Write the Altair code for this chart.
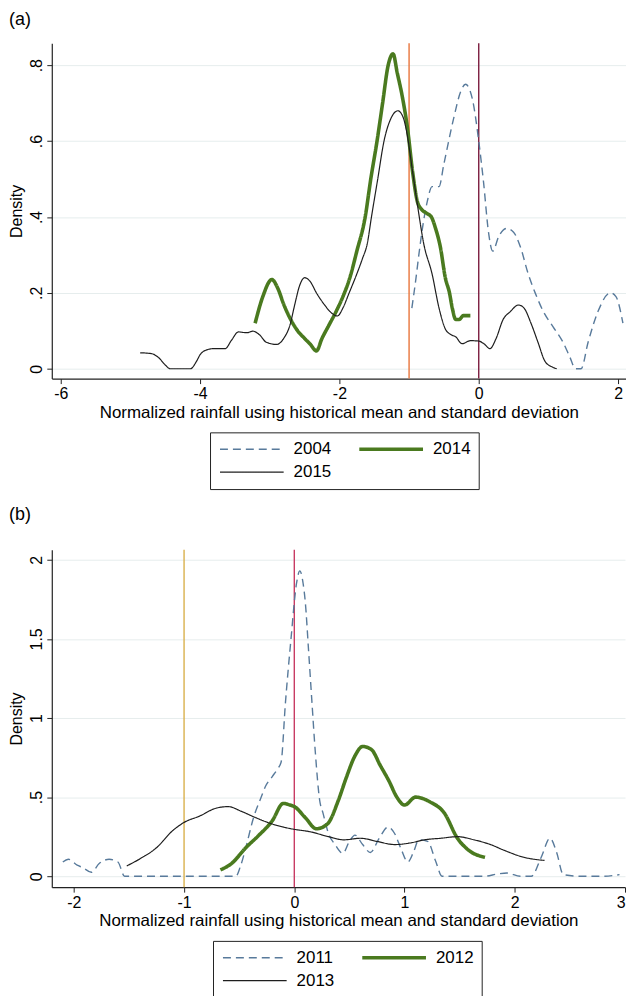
import altair as alt
import pandas as pd

FONT = "Liberation Sans"

# ---------------- Panel (a) ----------------
A_YEARS = ["2004", "2014", "2015"]

A_X_2004 = [-0.96, -0.9, -0.86, -0.8, -0.74, -0.67, -0.57, -0.5, -0.36, -0.26,
            -0.19, -0.09, 0.0, 0.07, 0.14, 0.2, 0.29, 0.4, 0.5, 0.6,
            0.71, 0.81, 0.93, 1.07, 1.21, 1.31, 1.39, 1.47, 1.57, 1.71,
            1.89, 1.97, 2.07]
A_Y_2004 = [0.16, 0.24, 0.3, 0.38, 0.44, 0.48, 0.48, 0.54, 0.66, 0.73,
            0.75, 0.71, 0.6, 0.49, 0.36, 0.31, 0.35, 0.37, 0.36, 0.32,
            0.25, 0.2, 0.15, 0.11, 0.07, 0.03, 0.0, 0.0, 0.07, 0.15,
            0.2, 0.19, 0.12]

A_X_2014 = [-3.21, -3.1, -2.97, -2.88, -2.8, -2.7, -2.6, -2.5, -2.42, -2.33,
            -2.25, -2.15, -2.05, -1.95, -1.85, -1.75, -1.63, -1.55, -1.46, -1.38,
            -1.3, -1.23, -1.17, -1.1, -1.02, -0.95, -0.88, -0.82, -0.75, -0.68,
            -0.62, -0.55, -0.48, -0.42, -0.38, -0.33, -0.28, -0.22, -0.12]
A_Y_2014 = [0.12, 0.19, 0.235, 0.21, 0.17, 0.13, 0.1, 0.08, 0.065, 0.047,
            0.08, 0.115, 0.15, 0.19, 0.24, 0.31, 0.4, 0.5, 0.6, 0.7,
            0.8, 0.83, 0.78, 0.72, 0.63, 0.52, 0.44, 0.42, 0.41, 0.4,
            0.37, 0.32, 0.24, 0.2, 0.16, 0.13, 0.13, 0.14, 0.14]

A_X_2015 = [-4.86, -4.7, -4.6, -4.5, -4.43, -4.3, -4.14, -4.05, -4.0, -3.9,
            -3.81, -3.64, -3.55, -3.45, -3.33, -3.24, -3.15, -3.05, -2.9, -2.8,
            -2.71, -2.64, -2.57, -2.5, -2.42, -2.33, -2.22, -2.1, -2.03, -1.95,
            -1.86, -1.75, -1.67, -1.6, -1.54, -1.45, -1.36, -1.26, -1.16, -1.08,
            -1.03, -0.95, -0.87, -0.79, -0.67, -0.57, -0.48, -0.4, -0.33, -0.24,
            -0.12, 0.0, 0.08, 0.16, 0.25, 0.35, 0.45, 0.57, 0.65, 0.75,
            0.85, 0.95, 1.05, 1.12]
A_Y_2015 = [0.042, 0.04, 0.03, 0.01, 0.0, 0.0, 0.0, 0.02, 0.037, 0.05,
            0.053, 0.053, 0.075, 0.097, 0.095, 0.099, 0.09, 0.07, 0.064, 0.08,
            0.115, 0.17, 0.22, 0.24, 0.23, 0.2, 0.17, 0.145, 0.139, 0.16,
            0.2, 0.25, 0.29, 0.33, 0.4, 0.5, 0.6, 0.66, 0.68, 0.66,
            0.62, 0.52, 0.42, 0.33, 0.25, 0.16, 0.105, 0.09, 0.084, 0.066,
            0.074, 0.073, 0.065, 0.053, 0.08, 0.13, 0.15, 0.168, 0.16, 0.12,
            0.07, 0.02, 0.005, 0.0]

A_X_TICKS = [-6, -4, -2, 0, 2]
A_Y_TICKS = [0, 0.2, 0.4, 0.6, 0.8]
A_VLINES = [-1, 0]

# ---------------- Panel (b) ----------------
B_YEARS = ["2011", "2012", "2013"]

B_X_2011 = [-2.1, -2.05, -1.97, -1.92, -1.84, -1.77, -1.68, -1.6, -1.54, -1.3,
            -1.0, -0.75, -0.53, -0.49, -0.44, -0.37, -0.3, -0.26, -0.2, -0.15,
            -0.12, -0.08, -0.03, 0.02, 0.05, 0.08, 0.1, 0.13, 0.16, 0.19,
            0.23, 0.26, 0.31, 0.37, 0.44, 0.5, 0.55, 0.62, 0.69, 0.77,
            0.85, 0.91, 0.97, 1.03, 1.08, 1.13, 1.21, 1.28, 1.34, 1.5,
            1.72, 1.85, 1.93, 2.05, 2.15, 2.24, 2.32, 2.38, 2.44, 2.6,
            2.8, 2.95]
B_Y_2011 = [0.09, 0.107, 0.07, 0.055, 0.025, 0.08, 0.107, 0.09, 0.0, 0.0,
            0.0, 0.0, 0.0, 0.06, 0.18, 0.37, 0.5, 0.57, 0.63, 0.68,
            0.72, 1.1, 1.5, 1.85, 1.93, 1.85, 1.73, 1.42, 1.1, 0.79,
            0.48, 0.4, 0.27, 0.2, 0.145, 0.22, 0.26, 0.2, 0.15, 0.24,
            0.31, 0.27, 0.17, 0.09, 0.15, 0.23, 0.22, 0.1, 0.0, 0.0,
            0.0, 0.015, 0.02, 0.0, 0.0, 0.12, 0.24, 0.15, 0.01, 0.0,
            0.0, 0.01]

B_X_2012 = [-0.67, -0.57, -0.44, -0.32, -0.2, -0.1, -0.04, 0.0, 0.1, 0.2,
            0.3, 0.4, 0.47, 0.55, 0.62, 0.7, 0.78, 0.86, 0.93, 1.0,
            1.1, 1.23, 1.36, 1.48, 1.58, 1.73]
B_Y_2012 = [0.04, 0.08, 0.18, 0.26, 0.35, 0.46, 0.45, 0.44, 0.37, 0.3,
            0.33, 0.48, 0.62, 0.76, 0.82, 0.8, 0.7, 0.6, 0.5, 0.45,
            0.5, 0.47, 0.4, 0.24, 0.165, 0.12]

B_X_2013 = [-1.52, -1.4, -1.25, -1.1, -1.0, -0.86, -0.71, -0.6, -0.48, -0.35,
            -0.2, -0.03, 0.15, 0.31, 0.45, 0.6, 0.75, 0.91, 1.05, 1.18,
            1.33, 1.48, 1.63, 1.78, 1.9, 2.08, 2.2, 2.27]
B_Y_2013 = [0.065, 0.11, 0.18, 0.29, 0.34, 0.38, 0.43, 0.44, 0.41, 0.37,
            0.33, 0.3, 0.28, 0.25, 0.23, 0.24, 0.22, 0.2, 0.21, 0.23,
            0.24, 0.25, 0.23, 0.2, 0.165, 0.12, 0.105, 0.1]

B_X_TICKS = [-2, -1, 0, 1, 2, 3]
B_Y_TICKS = [0, 0.5, 1, 1.5, 2]
B_VLINES = [-1, 0]

X_TITLE = "Normalized rainfall using historical mean and standard deviation"
Y_TITLE = "Density"

# ---------------- Styles ----------------
SERIES_COLORS = ["#587a9b", "#4a7a1f", "#1e1e1e"]
SERIES_DASH = [[8, 5], [1, 0], [1, 0]]
SERIES_WIDTH = [1.4, 3.6, 1.2]
A_VLINE_COLORS = ["#e8743b", "#7b1c3e"]
B_VLINE_COLORS = ["#d9b04c", "#c83c64"]


def panel(label, years, xs_list, ys_list, vlines, vline_colors, xdom, ydom,
          xticks, yticks, width, height, title_offset, legend_x, legend_y):
    rows = []
    for yr, xs, ys in zip(years, xs_list, ys_list):
        for i, (x, y) in enumerate(zip(xs, ys)):
            rows.append({"year": yr, "x": x, "y": y, "order": i})
    df = pd.DataFrame(rows)

    xscale = alt.Scale(domain=xdom, nice=False, zero=False)
    yscale = alt.Scale(domain=ydom, nice=False, zero=False)
    xaxis = alt.Axis(values=xticks, title=X_TITLE, grid=False,
                     labelExpr="datum.value + ''")

    legend = alt.Legend(
        orient="none", legendX=legend_x, legendY=legend_y, columns=2,
        direction="horizontal",
        title=None, symbolType="stroke", symbolSize=4096, clipHeight=18,
        rowPadding=5, columnPadding=26, labelFontSize=17, labelFont=FONT,
        labelColor="black", labelOffset=8, strokeColor="#222222",
        fillColor="white", padding=8,
    )

    lines = alt.Chart(df).mark_line(interpolate="monotone").encode(
        x=alt.X("x:Q", scale=xscale, axis=xaxis),
        y=alt.Y("y:Q", scale=yscale,
                axis=alt.Axis(values=yticks, title=Y_TITLE, grid=True,
                              labelAngle=270,
                              labelExpr="replace(datum.value + '', '0.', '.')")),
        color=alt.Color("year:N", scale=alt.Scale(domain=years, range=SERIES_COLORS),
                        legend=legend),
        strokeDash=alt.StrokeDash("year:N", scale=alt.Scale(domain=years, range=SERIES_DASH),
                                  legend=legend),
        strokeWidth=alt.StrokeWidth("year:N",
                                    scale=alt.Scale(type="ordinal", domain=years,
                                                    range=SERIES_WIDTH),
                                    legend=legend),
        order="order:Q",
    )

    rules = []
    for v, c in zip(vlines, vline_colors):
        rules.append(
            alt.Chart(pd.DataFrame({"x": [v]})).mark_rule(color=c, strokeWidth=1.4)
            .encode(x=alt.X("x:Q", scale=xscale, axis=xaxis))
        )

    return alt.layer(*rules, lines).properties(
        width=width, height=height,
        title=alt.Title(label, anchor="start", frame="bounds", fontSize=18,
                        font=FONT, fontWeight="normal", color="black",
                        offset=title_offset),
    )


pa = panel("(a)", A_YEARS, [A_X_2004, A_X_2014, A_X_2015],
           [A_Y_2004, A_Y_2014, A_Y_2015], A_VLINES, A_VLINE_COLORS,
           [-6.129, 2.114], [-0.026, 0.858], A_X_TICKS, A_Y_TICKS,
           577, 337, 14, 159, 391)

pb = panel("(b)", B_YEARS, [B_X_2011, B_X_2012, B_X_2013],
           [B_Y_2011, B_Y_2012, B_Y_2013], B_VLINES, B_VLINE_COLORS,
           [-2.2, 3.0], [-0.069, 2.063], B_X_TICKS, B_Y_TICKS,
           576, 339, 25, 162, 393)

chart = alt.vconcat(pa, pb, spacing=16).resolve_scale(
    color="independent", strokeDash="independent", strokeWidth="independent",
    x="independent", y="independent",
).resolve_legend(
    color="independent", strokeDash="independent", strokeWidth="independent",
).properties(padding=0).configure_view(
    stroke=None
).configure_axis(
    domainColor="#222222", tickColor="#222222", tickSize=5, labelPadding=2,
    labelFont=FONT, titleFont=FONT, labelFontSize=16, titleFontSize=17,
    labelColor="black", titleColor="black", titleFontWeight="normal",
    gridColor="#e6eded", gridWidth=1, domainWidth=1.2,
).configure_axisY(titlePadding=4, titleFontSize=16).configure_axisX(titlePadding=3)

chart.save("out.html", embed_options={"renderer": "svg", "actions": False})
